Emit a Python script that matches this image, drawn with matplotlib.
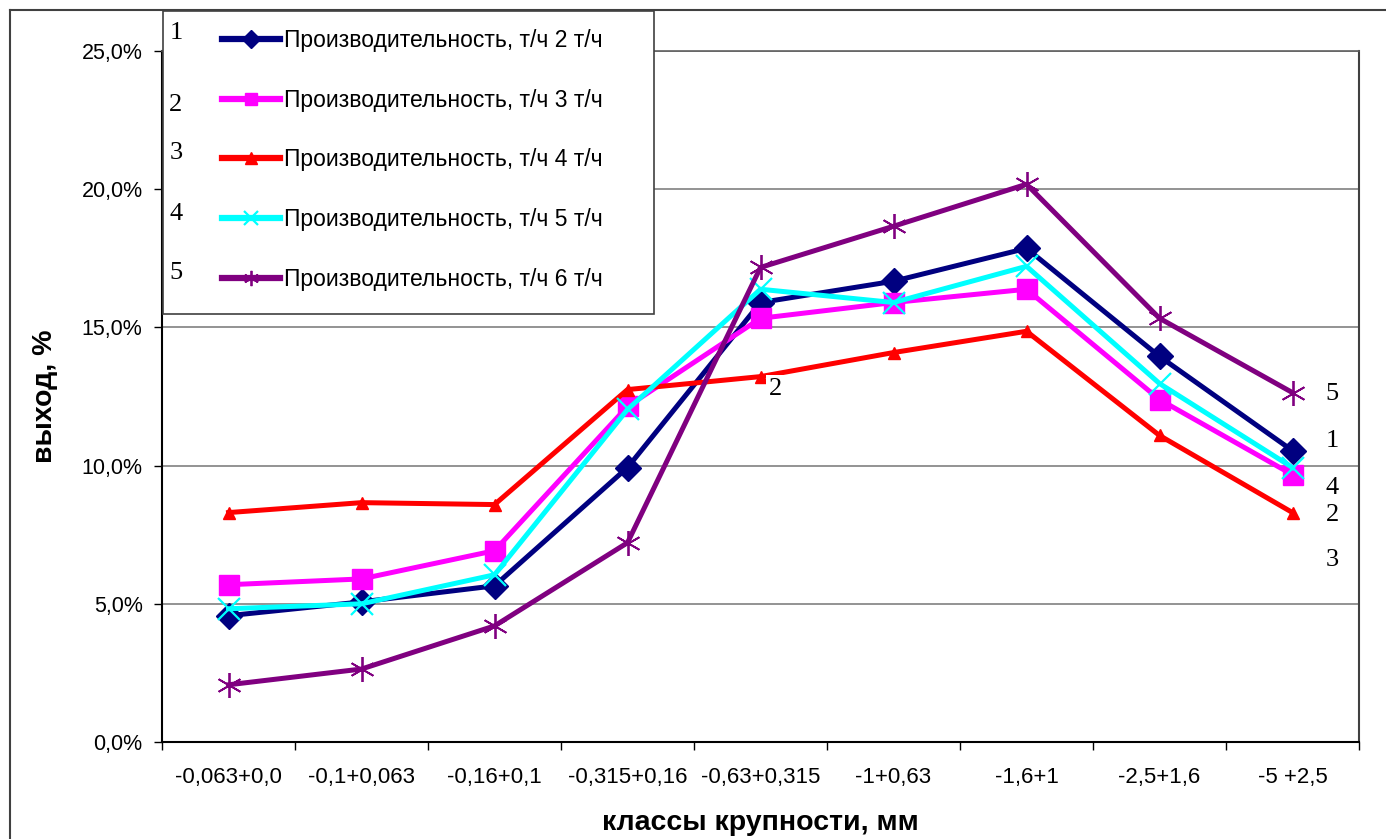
import matplotlib
matplotlib.use("Agg")
import matplotlib.pyplot as plt
from matplotlib.lines import Line2D
from matplotlib.patches import Rectangle
from matplotlib.ticker import FixedLocator, FuncFormatter

plt.rcParams['font.family'] = ['Liberation Sans', 'DejaVu Sans']

# классы крупности
classes = ['-0,063+0,0', '-0,1+0,063', '-0,16+0,1', '-0,315+0,16', '-0,63+0,315',
           '-1+0,63', '-1,6+1', '-2,5+1,6', '-5 +2,5']

# выход, %
prod_2 = [4.57, 5.07, 5.65, 9.93, 15.9, 16.67, 17.86, 13.95, 10.54]
prod_3 = [5.69, 5.90, 6.92, 12.14, 15.33, 15.9, 16.38, 12.39, 9.67]
prod_4 = [8.30, 8.66, 8.59, 12.75, 13.22, 14.09, 14.86, 11.09, 8.30]
prod_5 = [4.82, 5.00, 6.05, 12.03, 16.38, 15.9, 17.21, 12.97, 9.93]
prod_6 = [2.07, 2.64, 4.20, 7.21, 17.17, 18.66, 20.18, 15.33, 12.64]

labels = ['Производительность, т/ч 2 т/ч', 'Производительность, т/ч 3 т/ч',
          'Производительность, т/ч 4 т/ч', 'Производительность, т/ч 5 т/ч',
          'Производительность, т/ч 6 т/ч']
series = [prod_2, prod_3, prod_4, prod_5, prod_6]
colors = ['#000080', '#ff00ff', '#ff0000', '#00ffff', '#800080']
markers = ['D', 's', '^', 'x', (6, 2, 0)]
msizes = [13, 15, 9, 16, 18]
mews = [1, 1, 1, 1.6, 1.3]

W, H = 1386, 839
fig = plt.figure(figsize=(W / 100, H / 100), dpi=100)
ax = fig.add_axes([162 / W, 1 - 742 / H, (1359 - 162) / W, (742 - 51) / H])

x = list(range(len(classes)))
for i in range(len(series)):
	ax.plot(x, series[i], color=colors[i], lw=3.6, marker=markers[i],
			ms=msizes[i], mew=mews[i], mec=colors[i], mfc=colors[i], zorder=3 + i)

ax.set_xlim(-0.5, len(classes) - 0.5)
ax.set_ylim(0, 25)
ax.yaxis.set_major_locator(FixedLocator([0, 5, 10, 15, 20, 25]))
ax.yaxis.set_major_formatter(FuncFormatter(lambda v, p: ('%.1f%%' % v).replace('.', ',')))
ax.grid(axis='y', color='#808080', lw=1.2, zorder=0)

ax.xaxis.set_major_locator(FixedLocator([i - 0.5 for i in range(len(classes) + 1)]))
ax.xaxis.set_major_formatter(FuncFormatter(lambda v, p: ''))
ax.xaxis.set_minor_locator(FixedLocator(x))
ax.set_xticklabels(classes, minor=True)
ax.tick_params(axis='x', which='minor', length=0, pad=18, labelsize=16)
ax.tick_params(axis='x', which='major', length=6, direction='out', width=1)
ax.tick_params(axis='y', length=6, width=1, labelsize=15.5, pad=8)

for s in ['left', 'bottom']:
	ax.spines[s].set_linewidth(1.5)
	ax.spines[s].set_color('black')
ax.spines['top'].set_color('#606060')
ax.spines['top'].set_linewidth(1.2)
ax.spines['right'].set_color('#404040')
ax.spines['right'].set_linewidth(1.5)

ax.set_ylabel('выход, %', fontsize=20.5, fontweight='bold', labelpad=17)
ax.set_xlabel('классы крупности, мм', fontsize=20.5, fontweight='bold', labelpad=16)

# numbers next to the curves
ax.text(x[4] + 0.06, prod_4[4] - 0.45, '2', family='Liberation Serif', fontsize=19,
		va='center', ha='left', zorder=20,
		bbox=dict(facecolor='white', edgecolor='none', pad=2))
right_nums = ['5', '1', '4', '2', '3']
right_y = [12.6, 10.9, 9.2, 8.2, 6.6]
for t, yv in zip(right_nums, right_y):
	ax.text(8.25, yv, t, family='Liberation Serif', fontsize=19, va='center', ha='left')

# outer frame
fig.add_artist(Line2D([10 / W, 10 / W], [0, 1 - 10 / H], color='#404040', lw=1.5))
fig.add_artist(Line2D([10 / W, 1], [1 - 10 / H, 1 - 10 / H], color='#404040', lw=1.5))

# legend box
fig.add_artist(Rectangle((163 / W, 1 - 314 / H), (654 - 163) / W, (314 - 11) / H,
						 facecolor='white', edgecolor='#404040', lw=1.2, zorder=2))
handles = []
for i in range(len(series)):
	handles.append(Line2D([], [], color=colors[i], lw=4.5, marker=markers[i],
						  ms=[9, 9, 9, 10, 11][i], mew=mews[i], mec=colors[i], mfc=colors[i]))
leg = fig.legend(handles, labels, loc='upper left', bbox_to_anchor=(222 / W, 1 - 29 / H),
				 frameon=False, fontsize=16.5, handlelength=2.55, handletextpad=0.15,
				 labelspacing=1.6, borderpad=0, borderaxespad=0)
leg.set_zorder(3)
leg_num_y = [33, 105, 153, 214, 273]
for i, yp in enumerate(leg_num_y):
	fig.text(176 / W, 1 - yp / H, str(i + 1), family='Liberation Serif', fontsize=19,
			 ha='center', va='center', zorder=4)

fig.savefig('out.png', dpi=100)
